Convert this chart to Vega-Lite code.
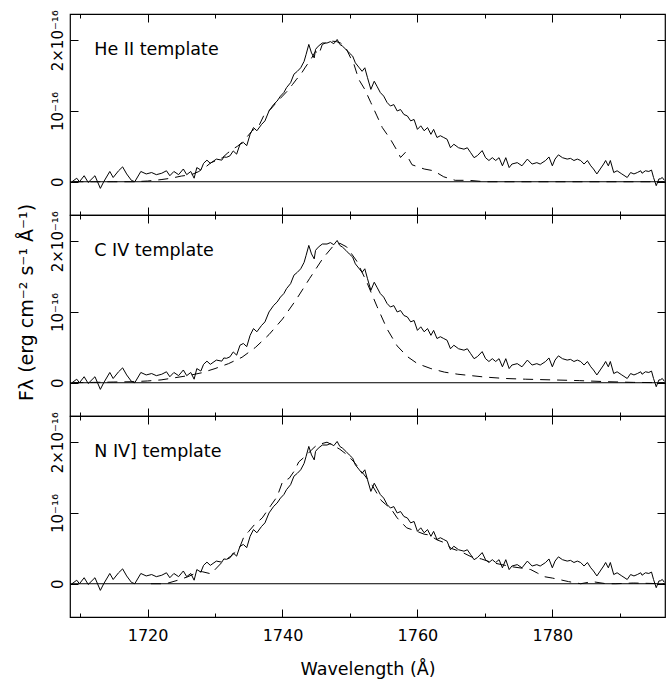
{
 "$schema": "https://vega.github.io/schema/vega-lite/v6.json",
 "padding": {"left": 16, "top": 9, "right": 0, "bottom": 0},
 "autosize": {"type": "pad"},
 "bounds": "flush",
 "spacing": 0,
 "config": {
  "view": {"stroke": "black", "strokeWidth": 1.2},
  "font": "DejaVu Sans",
  "axis": {"domain": false, "grid": false, "tickColor": "black", "labelColor": "black", "titleColor": "black", "labelFont": "DejaVu Sans", "titleFont": "DejaVu Sans", "labelFontSize": 16, "titleFontSize": 16, "titleFontWeight": "normal", "tickWidth": 1, "labelFlush": false}
 },
 "datasets": {
  "spectrum": [
   {"wl":1708.8,"flux":0.00},{"wl":1709.5,"flux":0.05},{"wl":1709.9,"flux":0.00},{"wl":1710.6,"flux":0.085},{"wl":1711.2,"flux":-0.01},{"wl":1712.2,"flux":0.085},{"wl":1713.0,"flux":-0.094},{"wl":1713.5,"flux":0.0},{"wl":1714.4,"flux":0.145},{"wl":1714.9,"flux":0.06},{"wl":1715.7,"flux":0.155},{"wl":1716.3,"flux":0.21},{"wl":1716.9,"flux":0.11},{"wl":1717.6,"flux":0.02},{"wl":1718.1,"flux":0.0},{"wl":1719.0,"flux":0.145},{"wl":1719.8,"flux":0.11},{"wl":1720.6,"flux":0.13},{"wl":1721.3,"flux":0.10},{"wl":1722.1,"flux":0.12},{"wl":1722.8,"flux":0.155},{"wl":1723.3,"flux":0.085},{"wl":1723.9,"flux":0.145},{"wl":1724.6,"flux":0.10},{"wl":1725.3,"flux":0.18},{"wl":1725.8,"flux":0.10},{"wl":1726.4,"flux":0.145},{"wl":1726.9,"flux":0.05},{"wl":1727.3,"flux":0.20},{"wl":1727.9,"flux":0.165},{"wl":1728.3,"flux":0.26},{"wl":1728.8,"flux":0.305},{"wl":1729.3,"flux":0.26},{"wl":1730.2,"flux":0.32},{"wl":1731.0,"flux":0.305},{"wl":1731.3,"flux":0.35},{"wl":1731.7,"flux":0.345},{"wl":1732.2,"flux":0.365},{"wl":1732.7,"flux":0.435},{"wl":1733.2,"flux":0.39},{"wl":1733.7,"flux":0.53},{"wl":1734.2,"flux":0.555},{"wl":1734.7,"flux":0.51},{"wl":1735.2,"flux":0.67},{"wl":1735.7,"flux":0.765},{"wl":1736.2,"flux":0.72},{"wl":1736.9,"flux":0.81},{"wl":1737.4,"flux":0.86},{"wl":1738.0,"flux":1.0},{"wl":1738.7,"flux":1.094},{"wl":1739.2,"flux":1.14},{"wl":1739.7,"flux":1.21},{"wl":1740.2,"flux":1.26},{"wl":1740.6,"flux":1.33},{"wl":1741.2,"flux":1.40},{"wl":1741.7,"flux":1.52},{"wl":1742.2,"flux":1.56},{"wl":1742.7,"flux":1.61},{"wl":1743.2,"flux":1.70},{"wl":1743.5,"flux":1.80},{"wl":1743.9,"flux":1.94},{"wl":1744.3,"flux":1.82},{"wl":1744.7,"flux":1.75},{"wl":1744.9,"flux":1.87},{"wl":1745.3,"flux":1.915},{"wl":1745.9,"flux":1.96},{"wl":1746.6,"flux":1.96},{"wl":1747.1,"flux":1.98},{"wl":1747.6,"flux":1.95},{"wl":1748.1,"flux":2.01},{"wl":1748.5,"flux":1.94},{"wl":1748.9,"flux":1.915},{"wl":1749.4,"flux":1.87},{"wl":1749.9,"flux":1.82},{"wl":1750.4,"flux":1.775},{"wl":1750.8,"flux":1.68},{"wl":1751.3,"flux":1.62},{"wl":1751.8,"flux":1.56},{"wl":1752.2,"flux":1.61},{"wl":1752.6,"flux":1.47},{"wl":1753.1,"flux":1.305},{"wl":1753.6,"flux":1.42},{"wl":1754.0,"flux":1.35},{"wl":1754.5,"flux":1.26},{"wl":1755.0,"flux":1.21},{"wl":1755.5,"flux":1.12},{"wl":1756.0,"flux":1.07},{"wl":1756.5,"flux":1.09},{"wl":1757.0,"flux":1.0},{"wl":1757.5,"flux":1.02},{"wl":1758.0,"flux":0.95},{"wl":1758.5,"flux":0.93},{"wl":1759.0,"flux":0.86},{"wl":1759.5,"flux":0.88},{"wl":1760.0,"flux":0.74},{"wl":1760.5,"flux":0.79},{"wl":1761.0,"flux":0.72},{"wl":1761.5,"flux":0.765},{"wl":1762.0,"flux":0.67},{"wl":1762.4,"flux":0.74},{"wl":1762.9,"flux":0.625},{"wl":1763.4,"flux":0.65},{"wl":1763.9,"flux":0.625},{"wl":1764.4,"flux":0.60},{"wl":1764.9,"flux":0.48},{"wl":1765.4,"flux":0.53},{"wl":1766.1,"flux":0.48},{"wl":1766.9,"flux":0.46},{"wl":1767.4,"flux":0.48},{"wl":1767.9,"flux":0.41},{"wl":1768.4,"flux":0.34},{"wl":1768.9,"flux":0.37},{"wl":1769.6,"flux":0.44},{"wl":1770.1,"flux":0.34},{"wl":1770.6,"flux":0.30},{"wl":1771.1,"flux":0.34},{"wl":1771.6,"flux":0.30},{"wl":1772.1,"flux":0.34},{"wl":1772.6,"flux":0.225},{"wl":1773.1,"flux":0.34},{"wl":1773.6,"flux":0.20},{"wl":1774.0,"flux":0.25},{"wl":1774.8,"flux":0.27},{"wl":1775.5,"flux":0.225},{"wl":1776.3,"flux":0.32},{"wl":1777.0,"flux":0.25},{"wl":1777.7,"flux":0.27},{"wl":1778.2,"flux":0.25},{"wl":1779.0,"flux":0.30},{"wl":1779.5,"flux":0.35},{"wl":1780.0,"flux":0.225},{"wl":1780.4,"flux":0.32},{"wl":1780.9,"flux":0.38},{"wl":1781.5,"flux":0.34},{"wl":1782.2,"flux":0.32},{"wl":1782.7,"flux":0.33},{"wl":1783.2,"flux":0.30},{"wl":1783.7,"flux":0.32},{"wl":1784.2,"flux":0.30},{"wl":1784.7,"flux":0.25},{"wl":1785.2,"flux":0.30},{"wl":1785.7,"flux":0.225},{"wl":1786.1,"flux":0.18},{"wl":1786.6,"flux":0.11},{"wl":1787.1,"flux":0.18},{"wl":1787.6,"flux":0.25},{"wl":1787.9,"flux":0.30},{"wl":1788.3,"flux":0.225},{"wl":1788.6,"flux":0.30},{"wl":1789.1,"flux":0.13},{"wl":1789.6,"flux":0.155},{"wl":1790.3,"flux":0.11},{"wl":1791.1,"flux":0.06},{"wl":1791.6,"flux":0.13},{"wl":1792.1,"flux":0.11},{"wl":1792.6,"flux":0.13},{"wl":1793.1,"flux":0.155},{"wl":1793.3,"flux":0.12},{"wl":1793.8,"flux":0.155},{"wl":1794.3,"flux":0.145},{"wl":1794.7,"flux":0.165},{"wl":1795.0,"flux":0.06},{"wl":1795.4,"flux":-0.056},{"wl":1795.8,"flux":0.04},{"wl":1796.0,"flux":0.04},{"wl":1796.3,"flux":0.06},{"wl":1796.6,"flux":0.02}
  ],
  "heii": [
   {"wl":1709.0,"flux":0.0},{"wl":1712.0,"flux":0.0},{"wl":1715.0,"flux":0.0},{"wl":1718.0,"flux":0.0},{"wl":1720.0,"flux":0.01},{"wl":1722.0,"flux":0.03},{"wl":1723.5,"flux":0.05},{"wl":1725.0,"flux":0.08},{"wl":1726.5,"flux":0.10},{"wl":1727.5,"flux":0.14},{"wl":1728.5,"flux":0.2},{"wl":1729.4,"flux":0.27},{"wl":1730.2,"flux":0.30},{"wl":1731.1,"flux":0.34},{"wl":1731.8,"flux":0.40},{"wl":1732.6,"flux":0.46},{"wl":1733.3,"flux":0.50},{"wl":1734.0,"flux":0.554},{"wl":1734.8,"flux":0.64},{"wl":1735.5,"flux":0.72},{"wl":1736.5,"flux":0.79},{"wl":1737.3,"flux":0.95},{"wl":1738.2,"flux":1.02},{"wl":1739.1,"flux":1.12},{"wl":1740.0,"flux":1.21},{"wl":1740.7,"flux":1.28},{"wl":1741.5,"flux":1.376},{"wl":1742.1,"flux":1.45},{"wl":1742.7,"flux":1.516},{"wl":1743.4,"flux":1.62},{"wl":1744.2,"flux":1.728},{"wl":1744.9,"flux":1.845},{"wl":1745.4,"flux":1.80},{"wl":1745.9,"flux":1.94},{"wl":1746.6,"flux":1.97},{"wl":1747.4,"flux":1.986},{"wl":1748.0,"flux":1.98},{"wl":1748.6,"flux":1.96},{"wl":1749.4,"flux":1.89},{"wl":1750.1,"flux":1.75},{"wl":1750.6,"flux":1.657},{"wl":1751.3,"flux":1.446},{"wl":1752.2,"flux":1.305},{"wl":1753.1,"flux":1.117},{"wl":1754.0,"flux":0.93},{"wl":1754.8,"flux":0.765},{"wl":1756.0,"flux":0.60},{"wl":1757.0,"flux":0.437},{"wl":1757.5,"flux":0.343},{"wl":1758.2,"flux":0.413},{"wl":1759.2,"flux":0.24},{"wl":1761.0,"flux":0.18},{"wl":1762.4,"flux":0.155},{"wl":1763.9,"flux":0.07},{"wl":1765.6,"flux":0.02},{"wl":1767.6,"flux":0.02},{"wl":1770.0,"flux":0.0},{"wl":1775.0,"flux":0.0},{"wl":1780.0,"flux":0.0},{"wl":1785.0,"flux":0.0},{"wl":1790.0,"flux":0.0},{"wl":1796.6,"flux":0.0}
  ],
  "civ": [
   {"wl":1709.0,"flux":0.0},{"wl":1712.0,"flux":0.005},{"wl":1715.0,"flux":0.01},{"wl":1718.0,"flux":0.015},{"wl":1720.0,"flux":0.025},{"wl":1722.0,"flux":0.04},{"wl":1724.0,"flux":0.07},{"wl":1726.0,"flux":0.1},{"wl":1728.0,"flux":0.14},{"wl":1730.0,"flux":0.2},{"wl":1732.0,"flux":0.27},{"wl":1734.0,"flux":0.36},{"wl":1736.0,"flux":0.5},{"wl":1738.0,"flux":0.68},{"wl":1740.0,"flux":0.9},{"wl":1742.0,"flux":1.17},{"wl":1744.0,"flux":1.47},{"wl":1746.0,"flux":1.76},{"wl":1747.5,"flux":1.93},{"wl":1748.5,"flux":1.97},{"wl":1749.5,"flux":1.92},{"wl":1751.0,"flux":1.72},{"wl":1752.5,"flux":1.42},{"wl":1754.0,"flux":1.08},{"wl":1755.5,"flux":0.76},{"wl":1757.0,"flux":0.52},{"wl":1758.5,"flux":0.37},{"wl":1760.0,"flux":0.27},{"wl":1762.0,"flux":0.2},{"wl":1764.0,"flux":0.15},{"wl":1766.0,"flux":0.12},{"wl":1768.0,"flux":0.1},{"wl":1770.0,"flux":0.08},{"wl":1773.0,"flux":0.06},{"wl":1776.0,"flux":0.05},{"wl":1780.0,"flux":0.04},{"wl":1784.0,"flux":0.03},{"wl":1788.0,"flux":0.015},{"wl":1792.0,"flux":0.005},{"wl":1796.6,"flux":0.0}
  ],
  "niv": [
   {"wl":1720.5,"flux":0.0},{"wl":1722.7,"flux":0.0},{"wl":1724.5,"flux":0.05},{"wl":1726.0,"flux":0.1},{"wl":1727.6,"flux":0.17},{"wl":1728.1,"flux":0.17},{"wl":1729.4,"flux":0.14},{"wl":1731.0,"flux":0.3},{"wl":1732.5,"flux":0.4},{"wl":1733.6,"flux":0.5},{"wl":1734.3,"flux":0.67},{"wl":1735.0,"flux":0.74},{"wl":1735.8,"flux":0.83},{"wl":1737.0,"flux":0.93},{"wl":1738.3,"flux":1.11},{"wl":1739.2,"flux":1.23},{"wl":1740.0,"flux":1.44},{"wl":1741.0,"flux":1.49},{"wl":1741.8,"flux":1.6},{"wl":1742.4,"flux":1.72},{"wl":1743.6,"flux":1.82},{"wl":1744.4,"flux":1.9},{"wl":1745.1,"flux":1.96},{"wl":1746.6,"flux":2.0},{"wl":1747.4,"flux":1.96},{"wl":1748.5,"flux":1.9},{"wl":1749.6,"flux":1.82},{"wl":1750.6,"flux":1.72},{"wl":1752.1,"flux":1.54},{"wl":1753.3,"flux":1.39},{"wl":1754.6,"flux":1.18},{"wl":1755.3,"flux":1.12},{"wl":1756.0,"flux":1.07},{"wl":1757.0,"flux":0.93},{"wl":1757.8,"flux":0.85},{"wl":1758.4,"flux":0.79},{"wl":1760.2,"flux":0.73},{"wl":1761.0,"flux":0.70},{"wl":1761.7,"flux":0.69},{"wl":1762.9,"flux":0.62},{"wl":1764.0,"flux":0.58},{"wl":1765.0,"flux":0.5},{"wl":1766.5,"flux":0.45},{"wl":1768.0,"flux":0.38},{"wl":1769.5,"flux":0.35},{"wl":1771.0,"flux":0.30},{"wl":1772.5,"flux":0.27},{"wl":1774.0,"flux":0.24},{"wl":1775.5,"flux":0.22},{"wl":1776.8,"flux":0.2},{"wl":1777.8,"flux":0.15},{"wl":1778.8,"flux":0.10},{"wl":1780.0,"flux":0.08},{"wl":1781.0,"flux":0.06},{"wl":1782.4,"flux":0.03},{"wl":1784.2,"flux":0.0},{"wl":1785.9,"flux":0.03},{"wl":1788.0,"flux":0.0},{"wl":1789.4,"flux":0.0},{"wl":1792.0,"flux":0.01},{"wl":1796.6,"flux":0.0}
  ]
 },
 "vconcat": [
  {
   "width": 595, "height": 201,
   "layer": [
    {"data": {"name": "spectrum"}, "mark": {"type": "line", "color": "black", "strokeWidth": 1, "clip": true},
     "encoding": {
      "x": {"field": "wl", "type": "quantitative", "scale": {"domain": [1708.5, 1796.7], "nice": false, "zero": false},
            "axis": {"orient": "bottom", "values": [1710,1720,1730,1740,1750,1760,1770,1780,1790], "tickSize": {"condition": {"test": "datum.value % 20 === 0", "value": -8}, "value": -4}, "labels": false, "title": null}},
      "y": {"field": "flux", "type": "quantitative", "scale": {"domain": [-0.47, 2.37], "nice": false, "zero": false},
            "axis": {"orient": "left", "values": [0,1,2], "tickSize": -8, "labelAngle": -90, "labelAlign": "center", "labelBaseline": "bottom", "labelPadding": 13, "labelFontSize": 15, "labelExpr": "datum.value == 0 ? '0' : datum.value == 1 ? '10⁻¹⁶' : '2×10⁻¹⁶'", "title": null}}
     }},
    {"data": {"name": "heii"}, "mark": {"type": "line", "color": "black", "strokeWidth": 1, "strokeDash": [10, 7], "clip": true},
     "encoding": {
      "x": {"field": "wl", "type": "quantitative", "axis": {"orient": "top", "values": [1710,1720,1730,1740,1750,1760,1770,1780,1790], "tickSize": {"condition": {"test": "datum.value % 20 === 0", "value": -8}, "value": -4}, "labels": false, "title": null}},
      "y": {"field": "flux", "type": "quantitative", "axis": {"orient": "right", "values": [0,1,2], "tickSize": -8, "labels": false, "title": null}}
     }},
    {"data": {"values": [{}]}, "mark": {"type": "rule", "color": "black", "strokeWidth": 1}, "encoding": {"y": {"datum": 0, "axis": null}}},
    {"data": {"values": [{}]}, "mark": {"type": "text", "align": "left", "baseline": "middle", "fontSize": 17.5, "font": "DejaVu Sans", "color": "black"},
     "encoding": {"x": {"datum": 1712.1, "axis": null}, "y": {"datum": 1.86, "axis": null}, "text": {"value": "He II template"}}}
   ],
   "resolve": {"axis": {"x": "independent", "y": "independent"}}
  },
  {
   "width": 595, "height": 201,
   "layer": [
    {"data": {"name": "spectrum"}, "mark": {"type": "line", "color": "black", "strokeWidth": 1, "clip": true},
     "encoding": {
      "x": {"field": "wl", "type": "quantitative", "scale": {"domain": [1708.5, 1796.7], "nice": false, "zero": false},
            "axis": {"orient": "bottom", "values": [1710,1720,1730,1740,1750,1760,1770,1780,1790], "tickSize": {"condition": {"test": "datum.value % 20 === 0", "value": -8}, "value": -4}, "labels": false, "title": null}},
      "y": {"field": "flux", "type": "quantitative", "scale": {"domain": [-0.47, 2.37], "nice": false, "zero": false},
            "axis": {"orient": "left", "values": [0,1,2], "tickSize": -8, "labelAngle": -90, "labelAlign": "center", "labelBaseline": "bottom", "labelPadding": 13, "labelFontSize": 15, "labelExpr": "datum.value == 0 ? '0' : datum.value == 1 ? '10⁻¹⁶' : '2×10⁻¹⁶'", "title": "Fλ (erg cm⁻² s⁻¹ Å⁻¹)", "titleFontSize": 19, "titleY": 87, "titlePadding": 14}}
     }},
    {"data": {"name": "civ"}, "mark": {"type": "line", "color": "black", "strokeWidth": 1, "strokeDash": [10, 7], "clip": true},
     "encoding": {
      "x": {"field": "wl", "type": "quantitative", "axis": {"orient": "top", "values": [1710,1720,1730,1740,1750,1760,1770,1780,1790], "tickSize": {"condition": {"test": "datum.value % 20 === 0", "value": -8}, "value": -4}, "labels": false, "title": null}},
      "y": {"field": "flux", "type": "quantitative", "axis": {"orient": "right", "values": [0,1,2], "tickSize": -8, "labels": false, "title": null}}
     }},
    {"data": {"values": [{}]}, "mark": {"type": "rule", "color": "black", "strokeWidth": 1}, "encoding": {"y": {"datum": 0, "axis": null}}},
    {"data": {"values": [{}]}, "mark": {"type": "text", "align": "left", "baseline": "middle", "fontSize": 17.5, "font": "DejaVu Sans", "color": "black"},
     "encoding": {"x": {"datum": 1712.1, "axis": null}, "y": {"datum": 1.86, "axis": null}, "text": {"value": "C IV template"}}}
   ],
   "resolve": {"axis": {"x": "independent", "y": "independent"}}
  },
  {
   "width": 595, "height": 201,
   "layer": [
    {"data": {"name": "spectrum"}, "mark": {"type": "line", "color": "black", "strokeWidth": 1, "clip": true},
     "encoding": {
      "x": {"field": "wl", "type": "quantitative", "scale": {"domain": [1708.5, 1796.7], "nice": false, "zero": false},
            "axis": {"orient": "bottom", "values": [1710,1720,1730,1740,1750,1760,1770,1780,1790], "tickSize": {"condition": {"test": "datum.value % 20 === 0", "value": -8}, "value": -4}, "format": "d", "labelExpr": "datum.value % 20 === 0 ? datum.label : ''", "labelPadding": 18, "title": "Wavelength (Å)", "titleFontSize": 17.5, "titlePadding": 17}},
      "y": {"field": "flux", "type": "quantitative", "scale": {"domain": [-0.47, 2.37], "nice": false, "zero": false},
            "axis": {"orient": "left", "values": [0,1,2], "tickSize": -8, "labelAngle": -90, "labelAlign": "center", "labelBaseline": "bottom", "labelPadding": 13, "labelFontSize": 15, "labelExpr": "datum.value == 0 ? '0' : datum.value == 1 ? '10⁻¹⁶' : '2×10⁻¹⁶'", "title": null}}
     }},
    {"data": {"name": "niv"}, "mark": {"type": "line", "color": "black", "strokeWidth": 1, "strokeDash": [10, 7], "clip": true},
     "encoding": {
      "x": {"field": "wl", "type": "quantitative", "axis": {"orient": "top", "values": [1710,1720,1730,1740,1750,1760,1770,1780,1790], "tickSize": {"condition": {"test": "datum.value % 20 === 0", "value": -8}, "value": -4}, "labels": false, "title": null}},
      "y": {"field": "flux", "type": "quantitative", "axis": {"orient": "right", "values": [0,1,2], "tickSize": -8, "labels": false, "title": null}}
     }},
    {"data": {"values": [{}]}, "mark": {"type": "rule", "color": "black", "strokeWidth": 1}, "encoding": {"y": {"datum": 0, "axis": null}}},
    {"data": {"values": [{}]}, "mark": {"type": "text", "align": "left", "baseline": "middle", "fontSize": 17.5, "font": "DejaVu Sans", "color": "black"},
     "encoding": {"x": {"datum": 1712.1, "axis": null}, "y": {"datum": 1.86, "axis": null}, "text": {"value": "N IV] template"}}}
   ],
   "resolve": {"axis": {"x": "independent", "y": "independent"}}
  }
 ]
}
